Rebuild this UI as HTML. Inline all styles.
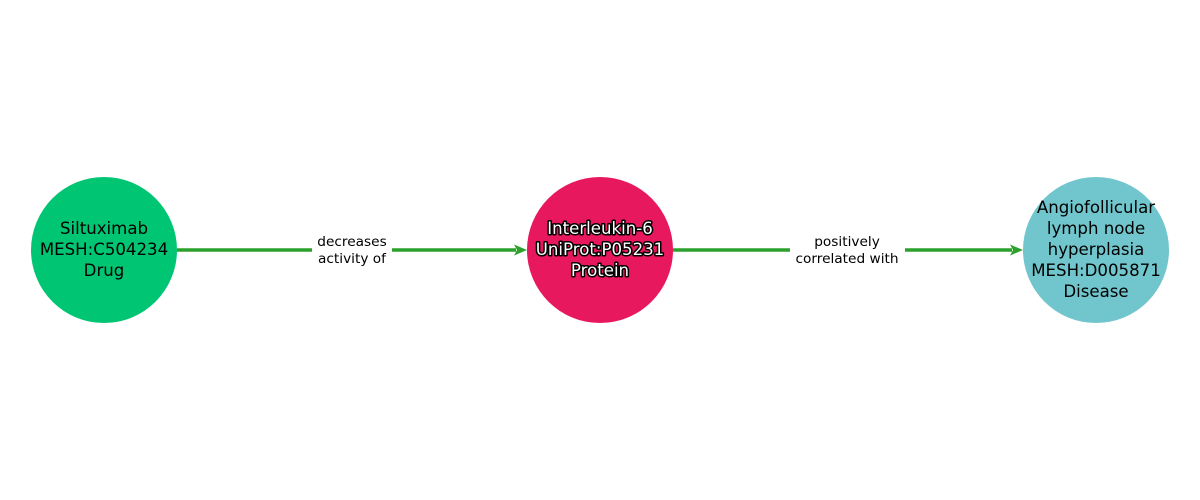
<!DOCTYPE html>
<html><head><meta charset="utf-8"><style>
html,body{margin:0;padding:0;background:#fff;width:1200px;height:500px;overflow:hidden}
text{font-family:"DejaVu Sans","Liberation Sans",sans-serif}
</style></head><body>
<svg width="1200" height="500" viewBox="0 0 1200 500" xmlns="http://www.w3.org/2000/svg">
<g stroke="#2ca02c" stroke-width="3.5" fill="none">
<line x1="177" y1="250" x2="516" y2="250"/>
<line x1="673" y1="250" x2="1012" y2="250"/>
</g>
<g fill="#2ca02c">
<path d="M527 250 L514 244.5 L517 250 L514 255.5 Z"/>
<path d="M1023 250 L1010 244.5 L1013 250 L1010 255.5 Z"/>
</g>
<rect x="312" y="232" width="80" height="36" fill="#fff"/>
<rect x="790" y="232" width="115" height="36" fill="#fff"/>
<g font-size="13.7" text-anchor="middle" fill="#000">
<text x="352" y="246">decreases</text>
<text x="352" y="263">activity of</text>
<text x="847" y="246">positively</text>
<text x="847" y="263">correlated with</text>
</g>
<circle cx="104" cy="250" r="73" fill="#00c572"/>
<circle cx="600" cy="250" r="73" fill="#e8185f"/>
<circle cx="1096" cy="250" r="73" fill="#70c6cc"/>
<g font-size="16.6" text-anchor="middle" fill="#000">
<text x="104" y="234">Siltuximab</text>
<text x="104" y="255">MESH:C504234</text>
<text x="104" y="276">Drug</text>
<text x="1096" y="213">Angiofollicular</text>
<text x="1096" y="234">lymph node</text>
<text x="1096" y="255">hyperplasia</text>
<text x="1096" y="276">MESH:D005871</text>
<text x="1096" y="297">Disease</text>
</g>
<g font-size="16.6" text-anchor="middle" fill="#fff" stroke="#000" stroke-width="3" paint-order="stroke" stroke-linejoin="round">
<text x="600" y="234">Interleukin-6</text>
<text x="600" y="255">UniProt:P05231</text>
<text x="600" y="276">Protein</text>
</g>
</svg>
</body></html>
